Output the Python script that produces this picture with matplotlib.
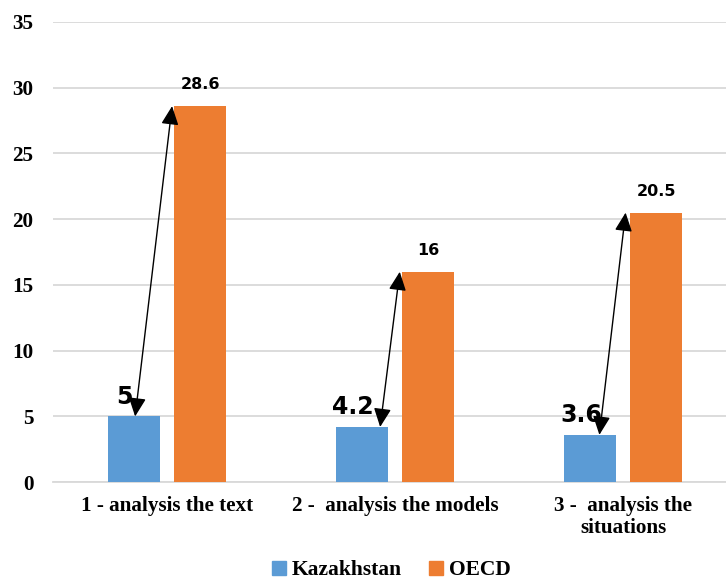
import matplotlib
matplotlib.use("Agg")
import matplotlib.pyplot as plt
import numpy as np
from matplotlib.lines import Line2D

categories = ["1 - analysis the text", "2 -  analysis the models", "3 -  analysis the\nsituations"]
kazakhstan = [5, 4.2, 3.6]
oecd = [28.6, 16, 20.5]
series_names = ["Kazakhstan", "OECD"]
yticks = [0, 5, 10, 15, 20, 25, 30, 35]

blue = "#5B9BD5"
orange = "#ED7D31"

fig = plt.figure(figsize=(7.26, 5.88), dpi=100)
ax = fig.add_axes([0.073, 0.180, 0.927, 0.7826])

x = np.arange(len(categories))
w = 0.228
off = 0.145
ax.bar(x - off, kazakhstan, w, color=blue, zorder=3)
ax.bar(x + off, oecd, w, color=orange, zorder=3)

serif = {"family": "Liberation Serif", "weight": "bold", "size": 15.2}
ax.set_ylim(0, 35)
ax.set_xlim(-0.5, 2.45)
ax.set_yticks(yticks)
ax.set_yticklabels([str(t) for t in yticks], fontdict=serif)
ax.set_xticks(x)
ax.set_xticklabels(categories, fontdict=serif, linespacing=1.15)
ax.tick_params(axis="both", length=0)
ax.tick_params(axis="x", pad=10)
ax.tick_params(axis="y", pad=14)
ax.grid(axis="y", color="#D9D9D9", linewidth=1.3, zorder=0)
for s in ["top", "right", "left"]:
    ax.spines[s].set_visible(False)
ax.spines["bottom"].set_color("#D9D9D9")
ax.spines["bottom"].set_linewidth(1.3)

# value labels
for i in range(len(categories)):
    ax.text(x[i] - off - 0.04, kazakhstan[i] + 0.95, f"{kazakhstan[i]:g}", ha="center", va="baseline",
            fontfamily="DejaVu Sans", fontweight="bold", fontsize=17, zorder=6)
    ax.text(x[i] + off, oecd[i] + 1.3, f"{oecd[i]:g}", ha="center", va="baseline",
            fontfamily="DejaVu Sans", fontweight="bold", fontsize=11.5, zorder=6)

# double-headed arrows
low_offsets = [-0.14, -0.066, -0.105]
high_offsets = [0.022, 0.02, 0.01]
for i in range(len(categories)):
    ax.annotate("", xy=(x[i] + high_offsets[i], oecd[i]), xytext=(x[i] + low_offsets[i], kazakhstan[i]),
                arrowprops=dict(arrowstyle="<|-|>,head_length=0.6,head_width=0.28", color="black", lw=1.0,
                                mutation_scale=19, shrinkA=0, shrinkB=0), zorder=5)

handles = [Line2D([], [], marker="s", linestyle="none", color=blue, markersize=10),
           Line2D([], [], marker="s", linestyle="none", color=orange, markersize=10)]
fig.legend(handles, series_names, loc="lower center", bbox_to_anchor=(0.535, -0.02), ncol=2,
           frameon=False, handletextpad=0.0, columnspacing=1.0, handlelength=1.2,
           prop={"family": "Liberation Serif", "weight": "bold", "size": 15.5})

fig.savefig("out.png", dpi=100)
